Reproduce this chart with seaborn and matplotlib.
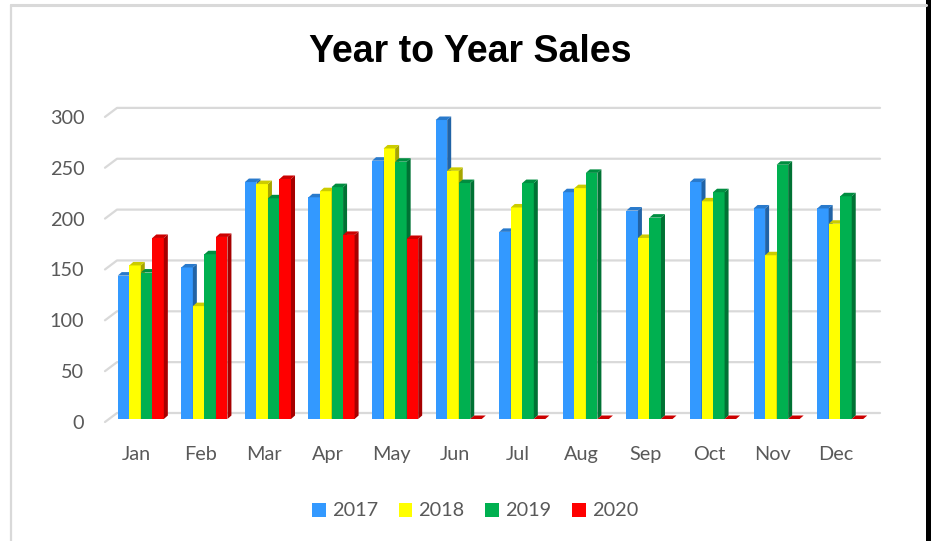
import pandas as pd
import seaborn as sns
import matplotlib.pyplot as plt
from matplotlib.patches import Polygon, Rectangle
from matplotlib.lines import Line2D
import matplotlib.colors as mcolors

months = ['Jan', 'Feb', 'Mar', 'Apr', 'May', 'Jun',
          'Jul', 'Aug', 'Sep', 'Oct', 'Nov', 'Dec']
years = ['2017', '2018', '2019', '2020']
sales_2017 = [141, 149, 233, 218, 254, 294, 184, 223, 205, 233, 207, 207]
sales_2018 = [151, 111, 231, 224, 266, 244, 208, 227, 178, 214, 161, 192]
sales_2019 = [144, 162, 217, 228, 253, 232, 232, 242, 198, 223, 250, 219]
sales_2020 = [178, 179, 236, 181, 177, 0, 0, 0, 0, 0, 0, 0]
colors = ['#3399FF', '#FFFF00', '#00B050', '#FF0000']
y_ticks = [0, 50, 100, 150, 200, 250, 300]


def shade(c, f):
    r, g, b = mcolors.to_rgb(c)
    return (r * f, g * f, b * f)


def main():
    rows = []
    for year, vals in zip(years, [sales_2017, sales_2018, sales_2019, sales_2020]):
        for m, v in zip(months, vals):
            rows.append({'Month': m, 'Sales': v, 'Year': year})
    df = pd.DataFrame(rows)

    sns.set_style('white')
    plt.rcParams['font.family'] = ['Lato', 'DejaVu Sans']
    text_col = '#595959'

    fig = plt.figure(figsize=(9.31, 5.41), dpi=100)
    W, H = 931, 541
    px_per_val = 1.017
    ax = fig.add_axes([105 / W, 119 / H, 763 / W, 310 * px_per_val / H])

    sns.barplot(data=df, x='Month', y='Sales', hue='Year', order=months,
                hue_order=years, palette=colors, saturation=1, width=0.725,
                linewidth=0, ax=ax)

    handles, labels = ax.get_legend_handles_labels()
    ax.get_legend().remove()

    ax.set_xlim(-0.5, 11.5)
    ax.set_ylim(0, 310)

    # 3D look: back wall gridlines and bar depth (in data units)
    px_per_cat = 763 / 12
    gdx, gdy = 12 / px_per_cat, 9 / px_per_val
    bdx, bdy = 4 / px_per_cat, 3.5 / px_per_val
    sx, sy = 4 / px_per_cat, 3 / px_per_val

    for v in y_ticks:
        ax.plot([-0.5, -0.5 + gdx, 11.5 + gdx], [v, v + gdy, v + gdy],
                color='#d9d9d9', lw=1.6, zorder=0, clip_on=False)

    for k, cont in enumerate(ax.containers):
        c = colors[k]
        z = 2 + k
        for bar in cont:
            x0 = bar.get_x() + sx
            w = bar.get_width()
            h = bar.get_height()
            bar.set_x(x0)
            bar.set_y(sy)
            bar.set_zorder(z)
            x1 = x0 + w
            top = sy + h
            side = Polygon([(x1, sy), (x1, top), (x1 + bdx, top + bdy), (x1 + bdx, sy + bdy)],
                           closed=True, facecolor=shade(c, 0.65), edgecolor='none',
                           zorder=z, clip_on=False)
            cap = Polygon([(x0, top), (x1, top), (x1 + bdx, top + bdy), (x0 + bdx, top + bdy)],
                          closed=True, facecolor=shade(c, 0.8), edgecolor='none',
                          zorder=z, clip_on=False)
            ax.add_patch(side)
            ax.add_patch(cap)

    ax.set_yticks(y_ticks)
    ax.set_xlabel('')
    ax.set_ylabel('')
    for s in ax.spines.values():
        s.set_visible(False)
    ax.tick_params(axis='y', length=0, pad=15, labelsize=14.3, labelcolor=text_col)
    ax.tick_params(axis='x', length=0, pad=17, labelsize=14.3, labelcolor=text_col)

    fig.text(470 / W, 1 - 62 / H, 'Year to Year Sales', ha='center', va='baseline',
             fontsize=27, fontweight='bold', family=['Liberation Sans', 'DejaVu Sans'],
             color='black')

    fig.legend(handles, labels, loc='center', bbox_to_anchor=(475 / W, 1 - 511 / H),
               ncol=4, frameon=False, fontsize=14.3, labelcolor=text_col,
               handlelength=0.7, handleheight=0.7, handletextpad=0.3,
               columnspacing=1.05)

    # chart frame
    fig.add_artist(Line2D([11 / W, 926 / W], [1 - 5 / H, 1 - 5 / H],
                          color='#d9d9d9', lw=2.2, transform=fig.transFigure))
    fig.add_artist(Line2D([11 / W, 11 / W], [0, 1 - 5 / H],
                          color='#d9d9d9', lw=1.6, transform=fig.transFigure))
    fig.add_artist(Rectangle((926 / W, 0), 5 / W, 1, facecolor='black',
                             edgecolor='none', transform=fig.transFigure))

    fig.savefig('out.png', dpi=100)


if __name__ == '__main__':
    main()
